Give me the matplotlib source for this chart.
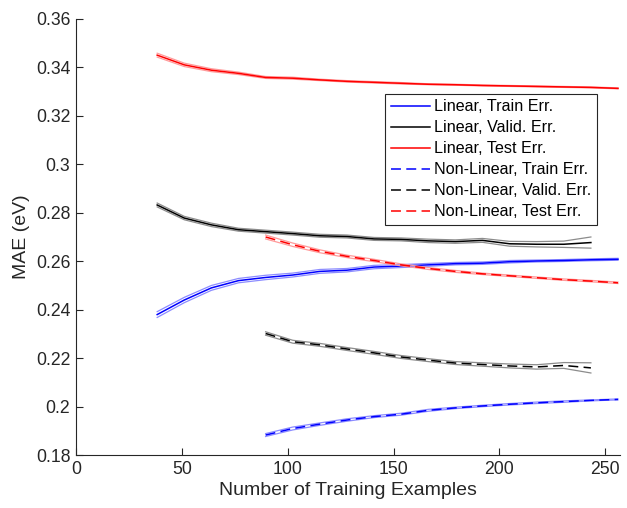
import matplotlib.pyplot as plt
from matplotlib.ticker import FormatStrFormatter
import numpy as np

plt.rcParams['font.family'] = ['Liberation Sans', 'DejaVu Sans']

# training set sizes (same grid for all curves)
n_lin = [38.4, 51.2, 64.0, 76.8, 89.6, 102.4, 115.2, 128.0, 140.8, 153.6,
         166.4, 179.2, 192.0, 204.8, 217.6, 230.4, 243.2, 256.0]
n_nl = n_lin[4:]

# linear model
lin_train = [0.2380, 0.2440, 0.2490, 0.2520, 0.2533, 0.2543, 0.2558, 0.2563, 0.2576,
             0.2580, 0.2585, 0.2590, 0.2592, 0.2598, 0.2601, 0.2603, 0.2606, 0.2608]
lin_train_sd = [0.0012, 0.0011, 0.0010, 0.0009, 0.0009, 0.0008, 0.0008, 0.0007, 0.0007,
                0.0006, 0.0006, 0.0005, 0.0005, 0.0005, 0.0004, 0.0004, 0.0004, 0.0004]
lin_valid = [0.2832, 0.2778, 0.2750, 0.2730, 0.2722, 0.2714, 0.2705, 0.2702, 0.2692,
             0.2690, 0.2684, 0.2681, 0.2686, 0.2672, 0.2670, 0.2670, 0.2677]
lin_valid_sd = [0.0008, 0.0007, 0.0007, 0.0006, 0.0006, 0.0006, 0.0006, 0.0006, 0.0006,
                0.0006, 0.0007, 0.0007, 0.0008, 0.0010, 0.0011, 0.0013, 0.0023]
lin_test = [0.3450, 0.3410, 0.3388, 0.3375, 0.3358, 0.3355, 0.3348, 0.3342, 0.3338,
            0.3334, 0.3330, 0.3328, 0.3325, 0.3323, 0.3321, 0.3319, 0.3317, 0.3313]
lin_test_sd = [0.0008, 0.0007, 0.0006, 0.0005, 0.0004, 0.0004, 0.0003, 0.0003, 0.0003,
               0.0003, 0.0002, 0.0002, 0.0002, 0.0002, 0.0002, 0.0002, 0.0002, 0.0002]

# non-linear model
nl_train = [0.1883, 0.1910, 0.1928, 0.1945, 0.1959, 0.1969, 0.1985,
            0.1995, 0.2003, 0.2010, 0.2016, 0.2021, 0.2026, 0.2030]
nl_train_sd = [0.0006, 0.0006, 0.0005, 0.0005, 0.0004, 0.0004, 0.0004,
               0.0003, 0.0003, 0.0003, 0.0003, 0.0003, 0.0002, 0.0002]
nl_valid = [0.2302, 0.2268, 0.2255, 0.2238, 0.2222, 0.2205, 0.2192,
            0.2180, 0.2174, 0.2168, 0.2164, 0.2170, 0.2160]
nl_valid_sd = [0.0007, 0.0006, 0.0006, 0.0006, 0.0006, 0.0006, 0.0006,
               0.0006, 0.0007, 0.0008, 0.0009, 0.0012, 0.0021]
nl_test = [0.2700, 0.2668, 0.2641, 0.2620, 0.2603, 0.2585, 0.2570,
           0.2558, 0.2548, 0.2540, 0.2532, 0.2524, 0.2518, 0.2511]
nl_test_sd = [0.0008, 0.0007, 0.0006, 0.0005, 0.0005, 0.0004, 0.0004,
              0.0004, 0.0003, 0.0003, 0.0003, 0.0003, 0.0003, 0.0003]

series = [
    ('Linear, Train Err.', n_lin, lin_train, lin_train_sd, 'blue', '#8c8cff', '-'),
    ('Linear, Valid. Err.', n_lin[:-1], lin_valid, lin_valid_sd, 'black', '#8c8c8c', '-'),
    ('Linear, Test Err.', n_lin, lin_test, lin_test_sd, 'red', '#ff9a9a', '-'),
    ('Non-Linear, Train Err.', n_nl, nl_train, nl_train_sd, 'blue', '#8c8cff', '--'),
    ('Non-Linear, Valid. Err.', n_nl[:-1], nl_valid, nl_valid_sd, 'black', '#8c8c8c', '--'),
    ('Non-Linear, Test Err.', n_nl, nl_test, nl_test_sd, 'red', '#ff9a9a', '--'),
]

fig = plt.figure(figsize=(6.27, 5.08), dpi=100)
ax = fig.add_axes([0.121, 0.104, 0.868, 0.859])

handles = []
for label, x, y, sd, col, light, ls in series:
    x = np.array(x)
    y = np.array(y)
    sd = np.array(sd)
    ax.plot(x, y + sd, color=light, lw=0.9)
    ax.plot(x, y - sd, color=light, lw=0.9)
    if ls == '--':
        h, = ax.plot(x, y, color=col, lw=1.1, dashes=(6.5, 3.5), label=label)
    else:
        h, = ax.plot(x, y, color=col, lw=1.1, label=label)
    handles.append(h)

ax.set_xlim(0, 257)
ax.set_ylim(0.18, 0.36)
ax.set_xticks([0, 50, 100, 150, 200, 250])
ax.set_yticks(np.arange(0.18, 0.3601, 0.02))
ax.yaxis.set_major_formatter(FormatStrFormatter('%g'))

for s in ['top', 'right']:
    ax.spines[s].set_visible(False)
for s in ['left', 'bottom']:
    ax.spines[s].set_color('#262626')
    ax.spines[s].set_linewidth(0.8)
ax.tick_params(direction='in', length=5, width=0.8, colors='#262626',
               labelsize=12.7, labelcolor='#262626', pad=4)

ax.set_xlabel('Number of Training Examples', fontsize=14, color='#262626', labelpad=3)
ax.set_ylabel('MAE (eV)', fontsize=14, color='#262626', labelpad=4)

leg = ax.legend(handles=handles, loc='upper right', bbox_to_anchor=(0.958, 0.828),
                fontsize=11.6, frameon=True, fancybox=False, framealpha=1,
                handlelength=2.4, handletextpad=0.3, borderpad=0.35,
                labelspacing=0.37, borderaxespad=0)
leg.get_frame().set_edgecolor('#262626')
leg.get_frame().set_linewidth(0.8)

fig.savefig('out.png', dpi=100)
